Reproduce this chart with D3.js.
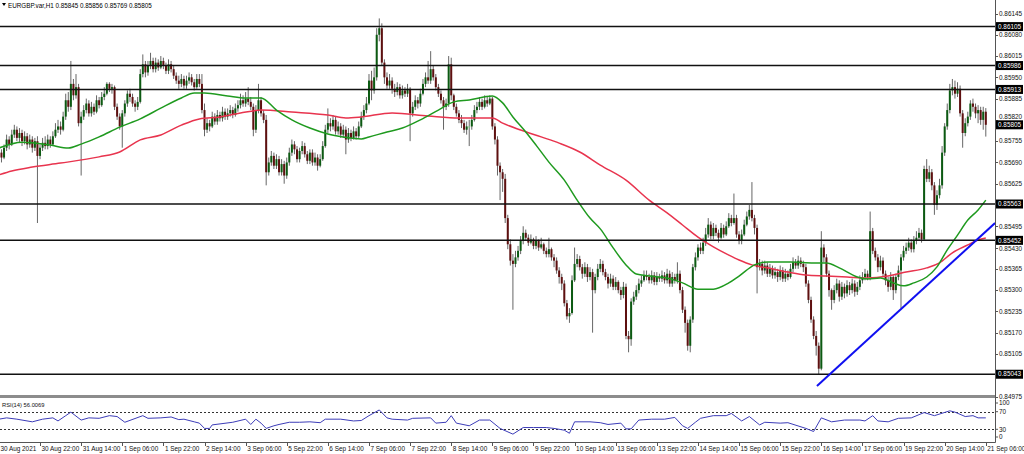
<!DOCTYPE html>
<html><head><meta charset="utf-8">
<script src="https://cdn.jsdelivr.net/npm/d3@7"></script>
<style>
html,body{margin:0;padding:0;background:#fff;overflow:hidden}
svg{display:block}
text{font-family:"Liberation Sans",Arial,sans-serif}
</style>
</head><body>
<svg id="c" width="1024" height="454"></svg>
<script>
// Prices are stored in points above 0.85000 (1 point = 0.00001)
const BASE = 0.85, UNIT = 1e-5;
const symbolInfo = "EURGBP.var,H1  0.85845 0.85856 0.85769 0.85805";

const closes = [
720,705,735,760,745,775,790,765,780,755,
770,745,760,735,755,710,735,750,740,760,
745,770,790,800,790,830,880,860,930,895,
920,810,830,850,870,840,860,845,880,865,
890,900,930,915,920,860,830,800,840,870,
900,890,870,860,875,960,990,965,985,1000,
975,995,980,1000,985,970,990,975,955,940,
930,945,925,940,950,935,920,945,930,850,
790,810,800,830,815,835,825,845,830,840,
850,835,855,865,880,870,885,875,860,790,
850,880,840,820,660,690,710,680,700,660,
685,650,690,720,745,730,700,725,740,715,
695,720,690,705,680,700,740,790,810,800,
820,785,800,775,790,760,780,765,785,770,
800,830,850,870,940,910,950,1080,1100,995,
950,925,940,915,905,920,895,910,900,915,
840,860,880,870,900,930,950,940,975,950,
920,900,880,860,870,990,895,860,840,820,
810,790,800,800,820,850,860,875,860,880,
870,885,800,760,680,660,640,520,440,390,
380,400,420,450,475,460,445,455,435,450,
430,440,420,410,425,400,390,360,340,320,
260,220,230,330,380,395,370,350,370,340,
355,300,340,365,380,355,340,320,335,310,
325,300,285,310,160,150,265,280,300,320,
330,345,340,330,345,325,340,335,345,330,
350,320,340,330,350,300,240,200,130,210,
370,400,430,420,445,470,500,465,490,475,
460,490,470,495,520,505,520,470,450,470,
500,525,545,520,490,370,380,360,375,350,
365,345,355,340,360,335,350,340,365,385,
375,390,380,370,320,270,210,160,130,60,
430,400,350,300,270,300,320,280,310,290,
315,300,320,295,310,330,340,350,340,480,
420,400,370,390,350,330,310,340,300,340,
360,400,420,430,445,425,450,460,475,455,
670,640,660,620,560,590,620,720,800,850,
910,920,900,915,840,780,810,830,870,860,
840,850,820,845,805];

const opens = [
740,720,705,735,760,745,775,790,765,780,
755,770,745,760,735,755,710,735,750,740,
760,745,770,790,800,790,830,880,860,930,
895,920,810,830,850,870,840,860,845,880,
865,890,900,930,915,920,860,830,800,840,
870,900,890,870,860,875,960,990,965,985,
1000,975,995,980,1000,985,970,990,975,955,
940,930,945,925,940,950,935,920,945,930,
850,790,810,800,830,815,835,825,845,830,
840,850,835,855,865,880,870,885,875,860,
790,850,880,840,820,660,690,710,680,700,
660,685,650,690,720,745,730,700,725,740,
715,695,720,690,705,680,700,740,790,810,
800,820,785,800,775,790,760,780,765,785,
770,800,830,850,870,940,910,950,1080,1100,
995,950,925,940,915,905,920,895,910,900,
915,840,860,880,870,900,930,950,940,975,
950,920,900,880,860,870,990,895,860,840,
820,810,790,800,800,820,850,860,875,860,
880,870,885,800,760,680,660,640,520,440,
390,380,400,420,450,475,460,445,455,435,
450,430,440,420,410,425,400,390,360,340,
320,260,220,230,330,380,395,370,350,370,
340,355,300,340,365,380,355,340,320,335,
310,325,300,285,310,160,150,265,280,300,
320,330,345,340,330,345,325,340,335,345,
330,350,320,340,330,350,300,240,200,130,
210,370,400,430,420,445,470,500,465,490,
475,460,490,470,495,520,505,520,470,450,
470,500,525,545,520,490,370,380,360,375,
350,365,345,355,340,360,335,350,340,365,
385,375,390,380,370,320,270,210,160,130,
60,430,400,350,300,270,300,320,280,310,
290,315,300,320,295,310,330,340,350,340,
480,420,400,370,390,350,330,310,340,300,
340,360,400,420,430,445,425,450,460,475,
455,670,640,660,620,560,590,620,720,800,
850,910,920,900,915,840,780,810,830,870,
860,840,850,820,845];

const highs = [
755,730,745,775,770,790,805,800,795,790,
785,780,775,770,765,770,745,765,770,775,
770,785,810,820,815,845,900,905,1000,945,
960,930,845,865,885,880,875,870,895,890,
905,920,935,935,930,925,870,840,850,880,
910,915,900,880,890,975,1020,1000,1000,1025,
1010,1010,1005,1015,1010,995,1005,1000,985,965,
955,960,955,955,965,960,945,960,960,960,
870,825,820,845,840,850,845,860,855,855,
865,860,870,880,900,895,905,920,890,870,
865,930,890,850,835,705,725,720,715,710,
700,695,705,735,760,755,740,735,755,750,
725,730,730,720,715,715,755,805,855,825,
835,830,815,810,805,800,795,790,800,795,
815,845,865,890,960,970,980,1100,1130,1115,
1005,965,960,950,930,935,930,925,920,930,
920,875,895,890,915,945,965,1000,1030,985,
960,930,910,890,885,1015,1010,900,870,850,
835,820,815,820,835,865,875,890,885,895,
890,895,890,810,770,690,670,655,530,455,
410,420,435,465,495,485,470,470,460,465,
455,460,445,430,460,430,410,400,370,350,
330,270,245,345,430,410,405,380,385,380,
370,365,350,380,395,390,365,350,350,345,
340,330,310,325,320,175,275,295,315,335,
345,360,360,350,360,355,355,350,360,355,
365,360,355,350,385,360,310,250,210,220,
380,415,440,445,460,490,520,510,505,500,
485,505,500,510,535,530,595,530,480,485,
515,540,560,630,530,500,395,390,390,385,
380,375,370,365,375,370,365,360,380,400,
395,405,400,390,380,330,280,220,175,140,
480,440,410,360,305,315,335,330,325,320,
330,325,335,330,325,345,355,365,360,540,
490,430,410,405,400,360,340,355,345,350,
375,410,435,445,460,455,465,480,490,485,
680,700,680,670,630,605,640,740,810,870,
930,945,940,935,925,850,825,845,880,885,
870,865,860,860,856];

const lows = [
705,690,700,725,730,740,765,755,750,740,
745,730,735,720,725,505,700,725,730,730,
735,740,765,780,775,785,820,845,850,880,
885,800,650,820,840,830,830,835,840,855,
860,880,895,905,900,850,820,790,735,830,
860,875,860,845,850,870,950,950,955,975,
965,965,970,975,975,960,960,965,945,930,
915,920,915,915,930,925,910,915,920,840,
770,780,785,795,805,805,815,815,820,820,
830,825,830,845,855,860,860,865,850,770,
780,840,830,810,620,650,680,670,670,650,
650,625,640,680,710,715,690,690,715,705,
685,685,680,680,665,675,695,735,780,785,
790,775,775,765,765,715,750,755,760,760,
765,795,820,840,865,880,900,940,1060,985,
930,915,915,900,890,895,885,885,890,890,
755,830,850,855,860,895,920,930,930,940,
910,890,870,790,850,860,880,850,830,810,
795,780,775,740,790,815,840,850,850,855,
860,865,790,745,650,575,600,505,425,375,
240,370,390,410,440,450,435,440,425,425,
420,425,410,400,400,390,370,350,320,300,
250,210,200,225,325,370,360,335,340,325,
330,170,290,330,355,345,330,305,310,300,
300,290,270,275,150,110,130,255,270,290,
310,325,330,320,320,315,315,325,325,320,
320,310,310,320,320,290,230,170,115,110,
200,360,390,410,410,435,460,455,455,465,
445,455,460,465,490,495,500,460,440,440,
465,495,515,510,470,290,360,345,350,340,
340,335,335,325,330,325,325,330,335,355,
365,365,370,355,310,260,200,150,100,43,
55,385,340,280,240,260,290,265,270,275,
280,285,290,280,285,300,320,330,330,330,
410,390,355,360,340,315,295,300,270,290,
330,245,390,410,420,415,415,440,450,445,
450,630,630,605,530,545,580,610,710,790,
840,895,885,890,830,735,770,800,820,845,
825,810,805,790,769];

const timeLabels = ["30 Aug 2021","30 Aug 22:00","31 Aug 14:00","1 Sep 06:00","1 Sep 22:00","2 Sep 14:00",
"3 Sep 06:00","5 Sep 22:00","6 Sep 14:00","7 Sep 06:00","7 Sep 22:00","8 Sep 14:00","9 Sep 06:00",
"9 Sep 22:00","10 Sep 14:00","13 Sep 06:00","13 Sep 22:00","14 Sep 14:00","15 Sep 06:00","15 Sep 22:00",
"16 Sep 14:00","17 Sep 06:00","19 Sep 22:00","20 Sep 14:00","21 Sep 06:00"];
const barsPerLabel = 16;

const priceTicks = [0.86145,0.86080,0.86015,0.85950,0.85885,0.85820,0.85755,0.85690,0.85625,0.85560,
0.85495,0.85430,0.85365,0.85300,0.85235,0.85170,0.85105,0.85040,0.84975];
const levels = [0.86105,0.85986,0.85913,0.85563,0.85452,0.85043];
const currentPrice = 0.85805;

// moving averages: [bar, points]
const maGreen = [[0,734],[9,752],[20,743],[27,734],[32,746],[39,768],[47,798],[55,823],[63,856],[71,887],
[76,902],[80,902],[89,893],[96,887],[102,887],[108,850],[114,820],[121,795],[128,777],[134,768],[141,762],
[144,768],[151,783],[157,795],[164,820],[171,850],[177,875],[183,881],[192,893],[196,872],[200,829],
[205,783],[209,743],[214,691],[220,636],[225,575],[230,520],[234,487],[239,429],[244,377],[248,349],
[253,343],[260,337],[266,322],[272,303],[278,303],[284,322],[288,343],[294,377],[299,386],[308,386],
[317,383],[322,383],[327,368],[334,340],[338,334],[343,337],[348,322],[352,313],[356,322],[361,340],
[365,371],[369,423],[373,468],[377,514],[381,545],[384,575]];
const maRed = [[0,652],[5,664],[13,676],[24,688],[39,707],[47,722],[55,759],[63,774],[71,804],[78,823],
[86,829],[94,841],[102,850],[114,844],[128,835],[135,826],[141,829],[153,841],[167,832],[179,826],
[192,826],[196,810],[203,789],[211,768],[218,749],[226,722],[234,682],[244,636],[253,575],[260,536],
[266,499],[272,462],[278,432],[284,407],[288,392],[293,377],[299,368],[307,355],[314,346],[322,343],
[330,340],[338,337],[346,343],[353,355],[361,368],[366,383],[371,414],[377,438],[381,453],[384,459]];
const trendline = [[318.3,7],[387.6,505]];

const rsiLabel = "RSI(14) 56.0069";
const rsi = [[0,53],[3,56],[7,53],[13,47],[17,53],[21,56],[23,49],[26,61],[28,69],[32,51],[35,56],[39,55],
[43,61],[46,59],[49,46],[56,61],[58,55],[63,56],[67,58],[70,52],[72,53],[76,47],[78,44],[80,32],[82,32],
[83,40],[91,46],[96,53],[98,41],[100,53],[102,44],[104,32],[107,38],[109,41],[113,46],[117,46],[121,47],
[125,45],[127,53],[133,53],[138,49],[141,50],[144,61],[148,74],[151,56],[153,53],[159,51],[161,55],[168,56],
[170,44],[174,46],[176,61],[178,44],[183,38],[187,51],[191,51],[195,32],[200,19],[204,34],[208,34],[213,34],
[216,32],[220,28],[222,21],[224,47],[230,47],[234,45],[237,41],[242,44],[244,31],[246,31],[249,51],[254,53],
[259,53],[263,57],[266,38],[268,32],[271,46],[273,55],[278,61],[283,61],[285,66],[289,49],[292,59],[296,40],
[298,46],[304,44],[307,45],[314,32],[317,25],[320,56],[324,47],[329,51],[335,51],[337,49],[340,61],[342,49],
[346,47],[350,55],[355,56],[360,68],[364,61],[370,72],[372,69],[376,59],[379,61],[381,56],[384,56]];
const rsiLevels = [70,30];
const rsiTicks = [100,70,30,0];

// ---------- drawing ----------
const svg = d3.select("#c");
const W = 1024, H = 454, plotRight = 995;
const px = v => BASE + v*UNIT;
const x = d3.scaleLinear().domain([0,384]).range([-1.1,985.8]);
const y = d3.scaleLinear().domain([0.84975,0.86145]).range([396.5,13.5]);
const ry = d3.scaleLinear().domain([0,100]).range([442.5,398.5]);
const FS = 6.4;

svg.append("rect").attr("width",W).attr("height",H).attr("fill","#fff");

const defs = svg.append("defs");
defs.append("clipPath").attr("id","mainClip").append("rect").attr("x",0).attr("y",0).attr("width",plotRight).attr("height",395);
defs.append("clipPath").attr("id","rsiClip").append("rect").attr("x",0).attr("y",399).attr("width",plotRight).attr("height",43);

const main = svg.append("g").attr("clip-path","url(#mainClip)");

// candles
const bars = d3.range(closes.length).map(i => ({i, o:px(opens[i]), h:px(highs[i]), l:px(lows[i]), c:px(closes[i])}));
const cg = main.append("g");
cg.selectAll("line.w").data(bars).join("line")
  .attr("x1",d=>x(d.i)).attr("x2",d=>x(d.i))
  .attr("y1",d=>y(Math.max(d.h,d.o,d.c))).attr("y2",d=>y(Math.min(d.l,d.o,d.c)))
  .attr("stroke","#666").attr("stroke-width",1);
cg.selectAll("rect.b").data(bars).join("rect")
  .attr("x",d=>x(d.i)-1).attr("width",2)
  .attr("y",d=>y(Math.max(d.o,d.c)))
  .attr("height",d=>Math.max(1,Math.abs(y(d.o)-y(d.c))))
  .attr("fill",d=>d.c>d.o?"#0c5a12":(d.c<d.o?"#5e1010":"#7cd67c"));

// moving averages
const maLine = d3.line().x(d=>x(d[0])).y(d=>y(px(d[1]))).curve(d3.curveMonotoneX);
main.append("path").attr("d",maLine(maRed)).attr("fill","none").attr("stroke","#e8344e").attr("stroke-width",1.5);
main.append("path").attr("d",maLine(maGreen)).attr("fill","none").attr("stroke","#1f9a1f").attr("stroke-width",1.5);

// horizontal levels
main.selectAll("line.lv").data(levels).join("line")
  .attr("x1",0).attr("x2",plotRight).attr("y1",d=>y(d)).attr("y2",d=>y(d))
  .attr("stroke","#111").attr("stroke-width",1.5);

// trendline
main.append("line")
  .attr("x1",x(trendline[0][0])).attr("y1",y(px(trendline[0][1])))
  .attr("x2",x(trendline[1][0])).attr("y2",y(px(trendline[1][1])))
  .attr("stroke","#1010f0").attr("stroke-width",2);

// header
svg.append("path").attr("d","M2,3 L6,3 L4,6 Z").attr("fill","#000");
svg.append("text").attr("x",8).attr("y",7.5).attr("font-size",6.3).attr("fill","#000").text(symbolInfo);

// panel separators / frame
svg.append("rect").attr("x",0).attr("y",395).attr("width",plotRight).attr("height",3).attr("fill","#8c8c8c");
svg.append("line").attr("x1",plotRight+0.5).attr("x2",plotRight+0.5).attr("y1",0).attr("y2",442.5).attr("stroke","#555").attr("stroke-width",1);
svg.append("line").attr("x1",0).attr("x2",plotRight+0.5).attr("y1",442.5).attr("y2",442.5).attr("stroke","#555").attr("stroke-width",1);

// price axis: labels fully covered by a highlighted label are hidden,
// labels only partly covered are nudged clear of the box
const boxed = [...levels, currentPrice];
const BOXH = 9;
const tickInfo = priceTicks.map(t => {
  let ty = y(t), hidden = false;
  boxed.forEach(b => {
    const d = y(t) - y(b);
    if (Math.abs(d) < 3) hidden = true;
    else if (Math.abs(d) < BOXH/2 + 3.6) ty = y(b) + Math.sign(d)*(BOXH/2 + 3.6);
  });
  return {t, ty, hidden};
});
const pa = svg.append("g");
pa.selectAll("line").data(priceTicks).join("line")
  .attr("x1",plotRight).attr("x2",plotRight+3).attr("y1",d=>Math.round(y(d))+0.5).attr("y2",d=>Math.round(y(d))+0.5)
  .attr("stroke","#555");
pa.selectAll("text").data(tickInfo.filter(d=>!d.hidden)).join("text")
  .attr("x",999).attr("y",d=>d.ty).attr("dy","0.35em").attr("font-size",FS).attr("fill","#111")
  .text(d=>d.t.toFixed(5));

// highlighted price labels
const boxes = svg.append("g");
boxed.forEach(p=>{
  boxes.append("rect").attr("x",996).attr("y",y(p)-BOXH/2).attr("width",27).attr("height",BOXH).attr("fill","#000");
  boxes.append("text").attr("x",998).attr("y",y(p)).attr("dy","0.35em").attr("font-size",FS).attr("fill","#fff").text(p.toFixed(5));
});

// RSI panel
const rg = svg.append("g").attr("clip-path","url(#rsiClip)");
rg.selectAll("line.lv").data(rsiLevels).join("line")
  .attr("x1",0).attr("x2",plotRight).attr("y1",d=>Math.round(ry(d))+0.5).attr("y2",d=>Math.round(ry(d))+0.5)
  .attr("stroke","#333").attr("stroke-dasharray","2,2");
rg.append("path").attr("d",d3.line().x(d=>x(d[0])).y(d=>ry(d[1]))(rsi))
  .attr("fill","none").attr("stroke","#3c3cb8").attr("stroke-width",1);
svg.append("text").attr("x",2).attr("y",406.5).attr("font-size",5.8).attr("fill","#111").text(rsiLabel);
svg.selectAll("text.rt").data(rsiTicks).join("text")
  .attr("x",999).attr("y",d=>Math.min(437,Math.max(403,ry(d)))).attr("dy","0.35em")
  .attr("font-size",FS).attr("fill","#111").text(d=>d);
svg.selectAll("line.rt").data(rsiTicks).join("line")
  .attr("x1",plotRight).attr("x2",plotRight+3).attr("y1",d=>Math.min(437,Math.max(403,ry(d)))).attr("y2",d=>Math.min(437,Math.max(403,ry(d))))
  .attr("stroke","#555");

// time axis
const ta = svg.append("g");
timeLabels.forEach((t,k)=>{
  const xx = x(k*barsPerLabel);
  ta.append("line").attr("x1",Math.round(xx)+0.5).attr("x2",Math.round(xx)+0.5).attr("y1",442.5).attr("y2",446).attr("stroke","#555");
  ta.append("text").attr("x",xx+1.5).attr("y",451).attr("font-size",FS).attr("fill","#111").text(t);
});
</script>
</body></html>
